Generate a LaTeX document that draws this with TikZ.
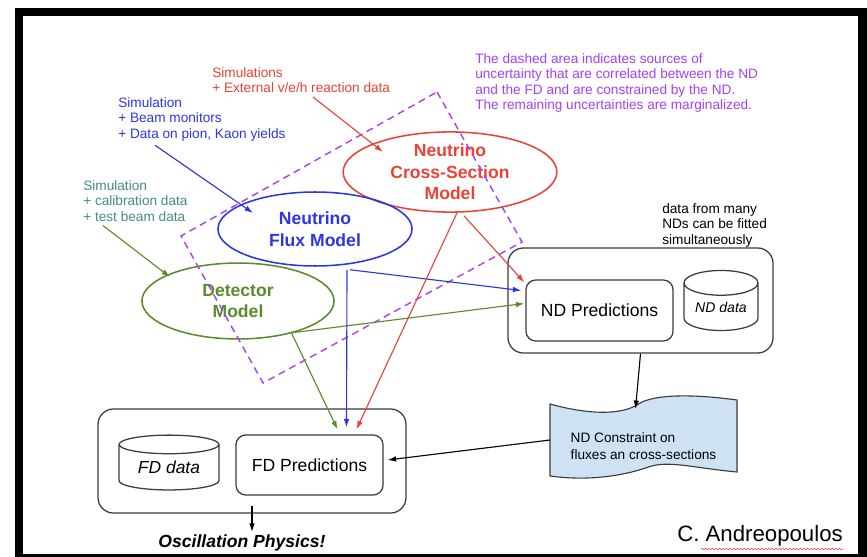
\documentclass[tikz,border=0pt]{standalone}
\usepackage{fontspec}
\setmainfont{Liberation Sans}
\usetikzlibrary{arrows.meta,shapes.geometric,decorations.pathmorphing,positioning}

\definecolor{xsred}{RGB}{234,67,53}
\definecolor{fluxblue}{RGB}{45,55,225}
\definecolor{detgreen}{RGB}{90,140,45}
\definecolor{calteal}{RGB}{70,140,140}
\definecolor{corrpurple}{RGB}{165,65,245}
\definecolor{tapeblue}{RGB}{207,226,243}
\definecolor{boxgray}{RGB}{60,60,60}

\tikzset{
  note/.style={anchor=north west, align=left, inner sep=0pt, font=\fontsize{9.7}{11}\selectfont},
  model/.style={ellipse, draw, line width=1.1pt, inner sep=0pt, align=center,
    font=\fontsize{12.5}{15.3}\selectfont\bfseries},
  outerbox/.style={draw=boxgray, line width=0.9pt, rounded corners=11pt, inner sep=0pt},
  predbox/.style={draw=boxgray, line width=0.9pt, rounded corners=7pt, inner sep=0pt,
    font=\fontsize{12.5}{15}\selectfont},
  datacyl/.style={cylinder, shape border rotate=90, draw=boxgray, line width=0.9pt,
    inner sep=0pt, font=\itshape},
  arr/.style={-{Latex[length=6pt,width=4pt]}, line width=0.8pt},
}

\begin{document}
\begin{tikzpicture}[x=0.025cm, y=-0.025cm]
\useasboundingbox (0,0) rectangle (867,557);
\fill[black] (15,8) rectangle (867,557);
\fill[white] (23,16) rectangle (858,554);

\node[note, text=xsred] (xsnote) at (212,67) {Simulations\\+ External v/e/h reaction data};
\node[note, text=fluxblue] (fluxnote) at (118,97) {Simulation\\+ Beam monitors\\+ Data on pion, Kaon yields};
\node[note, text=calteal] (detnote) at (83,180) {Simulation\\+ calibration data\\+ test beam data};
\node[note, text=corrpurple] (corrnote) at (475,53) {The dashed area indicates sources of\\uncertainty that are correlated between the ND\\and the FD and are constrained by the ND.\\The remaining uncertainties are marginalized.};
\node[note] (ndnote) at (662,203) {data from many\\NDs can be fitted\\simultaneously};

\node[model, draw=xsred, text=xsred, minimum width=152pt, minimum height=57pt] (xsec) at (450,172) {Neutrino\\Cross-Section\\Model};
\node[model, draw=fluxblue, text=fluxblue, minimum width=138pt, minimum height=52.6pt] (flux) at (315,229) {Neutrino\\Flux Model};
\node[model, draw=detgreen, text=detgreen, minimum width=136.6pt, minimum height=54pt] (det) at (238,301) {Detector\\Model};

\draw[corrpurple, line width=1pt, dash pattern=on 5pt off 3.5pt] (437,92) -- (522,242) -- (263,383) -- (181,236) -- cycle;

\node[outerbox, minimum width=188.5pt, minimum height=74.7pt] (ndbox) at (640.5,300.5) {};
\node[predbox, minimum width=104.6pt, minimum height=43.4pt] (ndpred) at (599.5,310.5) {ND Predictions};
\node[datacyl, aspect=0.48, minimum width=52.6pt, minimum height=42.7pt] (nddata) at (721,307) {ND data};

\node[outerbox, minimum width=219pt, minimum height=74pt] (fdbox) at (252,461) {};
\node[datacyl, aspect=0.3, minimum width=71pt, minimum height=39pt, font=\fontsize{12.4}{14}\selectfont\itshape] (fddata) at (169,467.5) {FD data};
\node[predbox, minimum width=104.6pt, minimum height=42.7pt] (fdpred) at (309.5,465) {FD Predictions};

\coordinate (tapemid) at (643.5,440);
\begin{scope}[shift={(tapemid)}]
\filldraw[draw=boxgray, fill=tapeblue, line width=0.8pt]
  (-93.5,-36) .. controls (-50,-24) and (-20,-26) .. (-5,-36)
  .. controls (10,-46) and (50,-46) .. (93.5,-40) -- (93.5,32)
  .. controls (50,28) and (25,20) .. (5,27)
  .. controls (-15,34) and (-50,42) .. (-93.5,36) -- cycle;
\end{scope}
\node[align=left, inner sep=0pt, font=\fontsize{9.7}{12}\selectfont] (constr) at (643.5,446) {ND Constraint on\\fluxes an cross-sections};

\node[font=\fontsize{12.5}{15}\selectfont\bfseries\itshape] (osc) at (242,543) {Oscillation Physics!};
\node[font=\fontsize{15.8}{18}\selectfont] (author) at (760,536) {C. Andreopoulos};
\draw[xsred, line width=0.4pt, decorate, decoration={snake, amplitude=0.5pt, segment length=2.5pt}]
  ([shift={(-59,13)}]author.center) -- ([shift={(83,13)}]author.center);

\draw[arr, xsred] ([shift={(101,4)}]xsnote.south west) -- ([shift={(-67,-20)}]xsec.center);
\draw[arr, fluxblue] ([shift={(37,4)}]fluxnote.south west) -- ([shift={(-62,-16)}]flux.center);
\draw[arr, detgreen] ([shift={(20,4)}]detnote.south west) -- ([shift={(-68,-24)}]det.center);

\draw[arr, fluxblue] ([shift={(35,3)}]flux.south) -- ([shift={(-4,-20)}]ndpred.west);
\draw[arr, detgreen] (det.-29) -- ([shift={(-1,-7)}]ndpred.west);
\draw[arr, xsred] ([shift={(14,3)}]xsec.south) -- ([shift={(-1,3)}]ndpred.north west);

\draw[arr, detgreen] (det.-31) -- ([shift={(28,-5)}]fdpred.north);
\draw[arr, fluxblue] ([shift={(32,3)}]flux.south) -- ([shift={(37,-7)}]fdpred.north);
\draw[arr, xsred] ([shift={(7,0)}]xsec.south) -- ([shift={(47,-5)}]fdpred.north);

\draw[arr] (ndbox.south) -- ([shift={(-8,-31)}]tapemid);
\draw[arr] ([shift={(-93.5,0)}]tapemid) -- ([shift={(4,-5)}]fdpred.east);
\draw[arr] ([shift={(0,-8)}]fdbox.south) -- ([shift={(10,2)}]osc.north);
\end{tikzpicture}
\end{document}
